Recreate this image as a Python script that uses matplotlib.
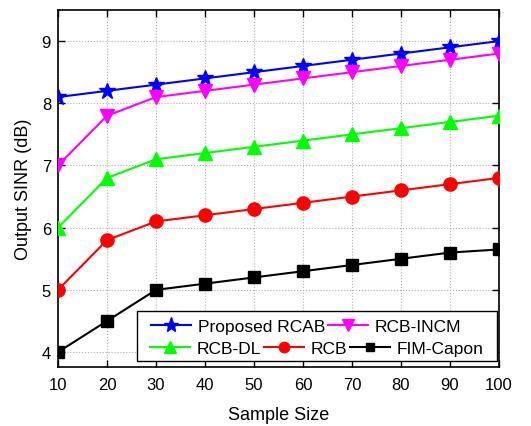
import matplotlib
matplotlib.use("Agg")
import matplotlib.pyplot as plt
from matplotlib.patches import Rectangle
from matplotlib.lines import Line2D

plt.rcParams['font.family'] = ['Liberation Sans', 'DejaVu Sans']

sample_size = [10, 20, 30, 40, 50, 60, 70, 80, 90, 100]
rcab = [8.1, 8.2, 8.3, 8.4, 8.5, 8.6, 8.7, 8.8, 8.9, 9.0]
rcb_incm = [7.0, 7.8, 8.1, 8.2, 8.3, 8.4, 8.5, 8.6, 8.7, 8.8]
rcb_dl = [6.0, 6.8, 7.1, 7.2, 7.3, 7.4, 7.5, 7.6, 7.7, 7.8]
rcb = [5.0, 5.8, 6.1, 6.2, 6.3, 6.4, 6.5, 6.6, 6.7, 6.8]
fim_capon = [4.0, 4.5, 5.0, 5.1, 5.2, 5.3, 5.4, 5.5, 5.6, 5.65]

W, H = 531, 427
L, R, T, B = 58, 499, 11, 368
fig = plt.figure(figsize=(W/100, H/100), dpi=100)
ax = fig.add_axes([L/W, 1-B/H, (R-L)/W, (B-T)/H])

def ax_xy(px, py):
    return ((px-L)/(R-L), (B-py)/(B-T))

styles = [
    (rcab, '#0000ff', '*', 12, 11, 'Proposed RCAB'),
    (rcb_incm, '#ff00ff', 'v', 9.5, 9, 'RCB-INCM'),
    (rcb_dl, '#00ff00', '^', 9.5, 9, 'RCB-DL'),
    (rcb, '#ff0000', 'o', 9.5, 7.5, 'RCB'),
    (fim_capon, '#000000', 's', 8, 6, 'FIM-Capon'),
]
handles = []
for ys, c, m, ms, lms, lab in styles:
    ax.plot(sample_size, ys, color=c, marker=m, markersize=ms, lw=1.5, zorder=5)
    handles.append(Line2D([], [], color=c, marker=m, markersize=lms, lw=1.5, label=lab))

ax.set_xlim(10, 100)
ax.set_ylim(3.76, 9.5)
ax.set_xticks(sample_size)
ax.set_yticks([4, 5, 6, 7, 8, 9])
ax.tick_params(direction='in', top=True, right=True, labelsize=12, length=5, width=1)
ax.tick_params(axis='x', pad=7)
ax.tick_params(axis='y', pad=5)
ax.grid(True, linestyle=':', color='#b0b0b0', lw=0.8)
for s in ax.spines.values():
    s.set_linewidth(1.2)

ax.set_xlabel('Sample Size', fontsize=13, labelpad=10)
ax.set_ylabel('Output SINR (dB)', fontsize=13, labelpad=7)

# legend frame
fx0, fy0 = ax_xy(137, 362)
fx1, fy1 = ax_xy(497, 312)
frame = Rectangle((fx0, fy0), fx1-fx0, fy1-fy0, transform=ax.transAxes,
                  facecolor='white', edgecolor='black', lw=1.0, zorder=9)
ax.add_patch(frame)

common = dict(frameon=False, fontsize=12.5, handlelength=2.3, handletextpad=0.4,
              columnspacing=0.15, borderpad=0, borderaxespad=0, loc='center left')
x1, y1 = ax_xy(151, 327)
leg1 = ax.legend(handles=handles[:2], ncol=2, bbox_to_anchor=(x1, y1), **common)
leg1.set_zorder(10)
ax.add_artist(leg1)
x2, y2 = ax_xy(150, 349)
leg2 = ax.legend(handles=handles[2:], ncol=3, bbox_to_anchor=(x2, y2), **common)
leg2.set_zorder(10)

fig.savefig('out.png', dpi=100)
